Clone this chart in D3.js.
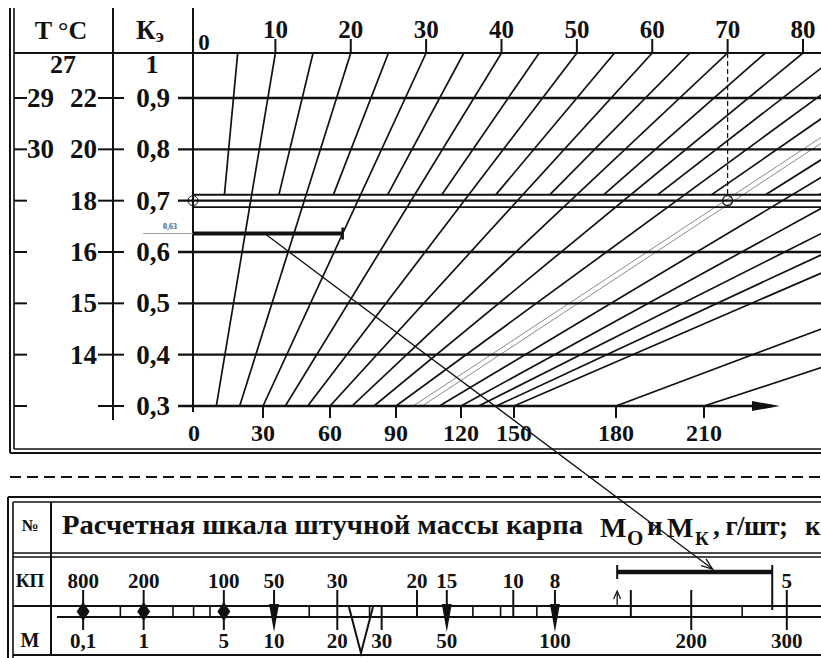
<!DOCTYPE html>
<html><head><meta charset="utf-8">
<script src="https://cdn.jsdelivr.net/npm/d3@7"></script>
<style>
body{margin:0;background:#fff}
svg{display:block}
text{font-family:"Liberation Serif","Times New Roman",serif;font-weight:bold;fill:#111}
</style>
</head><body>
<svg id="c" width="821" height="658"></svg>
<script>
// ---------- DATA ----------
const topTicks = [0,10,20,30,40,50,60,70,80];
const bottomTicks = [0,30,60,90,120,150,180,210];
const kValues = [0.9,0.8,0.7,0.6,0.5,0.4,0.3];
const kLabels = ["0,9","0,8","0,7","0,6","0,5","0,4","0,3"];
const tInner = ["22","20","18","16","15","14",""];
const tOuter = ["29","30","","","","",""];
const kTopLabel = "1", tTopLabel = "27";
const fullRays = [10,20,30,40,50,60,70,80,90,110,120,130,140,150,180,210];
const halfRays = [5,15,25,35,45,55,65,75,85,95,105,115];
const highlightRay = 100;
const exampleK = 0.7, exampleTop = 70;
const barK = 0.63, barLabel = "0,63", barRayEnd = 30, arrowRayStart = 14;

const kpLabels = ["800","200","100","50","30","20","15","10","8","5"];
const kpAtM    = [0.1, 1, 5, 10, 20, 40, 50, 78, 100, 300];
const mLabels  = ["0,1","1","5","10","20","30","50","100","200","300"];
const mValues  = [0.1, 1, 5, 10, 20, 30, 50, 100, 200, 300];
const diamondM = [0.1, 1, 5];
const wedgeM   = [10, 50, 100];
const vShapeM  = [25];
const tallTickM = [20, 40, 78, 150, 200, 300];
const shortTickM = [30];
const cellM = [0.5, 2, 3, 4, 15, 27, 60, 72, 90, 250];
const bracketM = [140, 283];
const arrowToM = 220;

// ---------- LAYOUT / SCALES ----------
const svg = d3.select("#c");
const W = 821;
const INK = "#111";
const yK = d3.scaleLinear().domain([0.3, 0.9]).range([406, 98]);
const xTop = d3.scaleLinear().domain([0, 80]).range([200, 803]);
const xBot = d3.scaleLinear().domain(bottomTicks).range([193, 263, 330, 396, 461, 514, 616, 704]);
const xM = d3.scalePow().exponent(1/3).domain([0, 300]).range([30.7, 786.8]);
const Y0 = 53, YB = yK(0.3), XA = 193;
const yUpper = yK(0.7) - 6;
function rayX(v, y){ const a = xTop(v), b = xBot(v); return a + (b - a) * (y - Y0) / (YB - Y0); }

function line(g, x1, y1, x2, y2, w, col, dash){
  const l = g.append("line").attr("x1",x1).attr("y1",y1).attr("x2",x2).attr("y2",y2)
    .attr("stroke", col || INK).attr("stroke-width", w || 1.5);
  if (dash) l.attr("stroke-dasharray", dash);
  return l;
}

// ---------- TOP PANEL ----------
const tp = svg.append("g");
line(tp, 10, 8, 10, 453, 2);
line(tp, 14, 8, 14, 449, 1.6);
line(tp, 10, 453, W, 453, 2);
line(tp, 14, 449, W, 449, 1.6);
line(tp, 113, 8, 113, 420, 2);
line(tp, XA, 8, XA, 412, 2);
line(tp, 14, Y0, W, Y0, 2.2);

tp.append("text").attr("x", 61).attr("y", 39).attr("text-anchor","middle").attr("font-size",26).text("T °C");
const kh = tp.append("text").attr("x", 150).attr("y", 39).attr("text-anchor","middle").attr("font-size",27);
kh.append("tspan").text("К");
kh.append("tspan").attr("font-size",19).attr("dy",3).text("э");
tp.append("text").attr("x", 152).attr("y", 73).attr("text-anchor","middle").attr("font-size",26).text(kTopLabel);
tp.append("text").attr("x", 63).attr("y", 73).attr("text-anchor","middle").attr("font-size",26).text(tTopLabel);

svg.append("defs").append("clipPath").attr("id","plot")
  .append("rect").attr("x", XA).attr("y", Y0).attr("width", W - XA).attr("height", YB - Y0);
const rays = tp.append("g").attr("clip-path","url(#plot)");

rays.selectAll("line.full").data(fullRays).join("line").attr("class","full")
  .attr("x1", d => xTop(d)).attr("y1", Y0).attr("x2", d => xBot(d)).attr("y2", YB)
  .attr("stroke", INK).attr("stroke-width", 1.7);
rays.selectAll("line.half").data(halfRays).join("line").attr("class","half")
  .attr("x1", d => xTop(d)).attr("y1", Y0).attr("x2", d => rayX(d, yUpper)).attr("y2", yUpper)
  .attr("stroke", INK).attr("stroke-width", 1.7);
rays.selectAll("line.hl").data([-4.5, 4.5]).join("line").attr("class","hl")
  .attr("x1", d => xTop(highlightRay) + d).attr("y1", Y0)
  .attr("x2", d => xBot(highlightRay) + d).attr("y2", YB)
  .attr("stroke", "#8a8a8a").attr("stroke-width", 1);

kValues.forEach((k, i) => {
  const y = yK(k);
  if (k !== 0.3) line(tp, 178, y, W, y, 2.3);
  else {
    line(tp, 178, y, 772, y, 2.3);
    tp.append("path").attr("d", `M752,${y-5}L780,${y}L752,${y+5}Z`).attr("fill", INK);
  }
  tp.append("text").attr("x", 153).attr("y", y + 9).attr("text-anchor","middle").attr("font-size",27).text(kLabels[i]);
  line(tp, 98, y, 124, y, 2);
  line(tp, 14, y, 27, y, 2);
  if (tInner[i]) tp.append("text").attr("x", 97).attr("y", y + 9).attr("text-anchor","end").attr("font-size",27).text(tInner[i]);
  if (tOuter[i]) tp.append("text").attr("x", 27).attr("y", y + 9).attr("font-size",27).text(tOuter[i]);
});
line(tp, XA, yUpper, W, yUpper, 2);
line(tp, XA, yK(0.7) + 6.5, W, yK(0.7) + 6.5, 1.6);

topTicks.forEach(v => {
  if (v === 0) {
    tp.append("text").attr("x", xTop(0) + 4).attr("y", 50).attr("text-anchor","middle").attr("font-size",23).text("0");
  } else {
    line(tp, xTop(v), 39, xTop(v), Y0, 2);
    tp.append("text").attr("x", xTop(v)).attr("y", 38).attr("text-anchor","middle").attr("font-size",25).text(v);
  }
});
bottomTicks.forEach(v => {
  if (v !== 0) line(tp, xBot(v), YB, xBot(v), YB + 12, 2);
  tp.append("text").attr("x", xBot(v) + (v === 0 ? 1 : 0)).attr("y", 441).attr("text-anchor","middle").attr("font-size",24).text(v);
});

const yEx = yK(exampleK);
line(tp, xTop(exampleTop), Y0, xTop(exampleTop), yEx - 5, 1.2, INK, "5,3");
tp.append("circle").attr("cx", XA).attr("cy", yEx).attr("r", 5).attr("fill","none").attr("stroke",INK).attr("stroke-width",1);
tp.append("circle").attr("cx", xTop(exampleTop)).attr("cy", yEx).attr("r", 5).attr("fill","none").attr("stroke",INK).attr("stroke-width",1.2);

const yBar = yK(barK) - 3;
line(tp, 143, yBar, XA, yBar, 1, "#999");
tp.append("text").attr("x", 170).attr("y", yBar - 5).attr("text-anchor","middle").attr("font-size",8).style("fill","#555").text(barLabel);
line(tp, XA, yBar, rayX(barRayEnd, yBar), yBar, 4);
line(tp, rayX(barRayEnd, yBar), yBar - 6, rayX(barRayEnd, yBar), yBar + 6, 2.5);

line(svg, 10, 477, W, 477, 2, INK, "11,6");

// ---------- BOTTOM PANEL ----------
const bp = svg.append("g");
line(bp, 8, 497, W, 497, 2);
line(bp, 13, 502, W, 502, 1.6);
line(bp, 8, 497, 8, 658, 2);
line(bp, 13, 502, 13, 658, 1.6);
line(bp, 51, 502, 51, 656, 2);
line(bp, 13, 553, W, 553, 1.6);
line(bp, 13, 557, W, 557, 1.6);
line(bp, 13, 606, W, 606, 2);
line(bp, 57, 617, W, 617, 2);
line(bp, 13, 655, W, 655, 2);

bp.append("text").attr("x", 30).attr("y", 531).attr("text-anchor","middle").attr("font-size",17).text("№");
bp.append("text").attr("x", 30).attr("y", 587).attr("text-anchor","middle").attr("font-size",19).text("КП");
bp.append("text").attr("x", 30).attr("y", 647).attr("text-anchor","middle").attr("font-size",20).text("М");

bp.append("text").attr("x", 62).attr("y", 534).attr("font-size",27)
  .attr("textLength", 521).attr("lengthAdjust","spacingAndGlyphs").text("Расчетная шкала штучной массы карпа");
const h2 = bp.append("text").attr("y", 537).attr("font-size",28);
h2.append("tspan").attr("x", 600).text("M");
h2.append("tspan").attr("x", 627).attr("y", 545).attr("font-size",21).text("O");
h2.append("tspan").attr("x", 647).attr("y", 535).attr("font-size",27).text("и");
h2.append("tspan").attr("x", 667).attr("y", 537).text("M");
h2.append("tspan").attr("x", 695).attr("y", 545).attr("font-size",19).text("К");
h2.append("tspan").attr("x", 713).attr("y", 535).attr("font-size",27)
  .attr("textLength", 75).attr("lengthAdjust","spacing").text(", г/шт;");
h2.append("tspan").attr("x", 805).attr("y", 535).attr("font-size",27).text("к");

bp.selectAll("line.cell").data(cellM).join("line").attr("class","cell")
  .attr("x1", d => xM(d)).attr("x2", d => xM(d)).attr("y1", 606).attr("y2", 617)
  .attr("stroke", INK).attr("stroke-width", 1.6);
bp.selectAll("line.tall").data(tallTickM).join("line").attr("class","tall")
  .attr("x1", d => xM(d)).attr("x2", d => xM(d)).attr("y1", 590)
  .attr("y2", d => mValues.includes(d) ? 630 : 617).attr("stroke", INK).attr("stroke-width", 2);
bp.selectAll("line.short").data(shortTickM).join("line").attr("class","short")
  .attr("x1", d => xM(d)).attr("x2", d => xM(d)).attr("y1", 606).attr("y2", 630)
  .attr("stroke", INK).attr("stroke-width", 2);
diamondM.forEach(m => {
  const x = xM(m);
  line(bp, x, 590, x, 630, 2);
  bp.append("path").attr("d", `M${x},${602}L${x+6.5},${611.5}L${x},${621}L${x-6.5},${611.5}Z`).attr("fill", INK);
});
wedgeM.forEach(m => {
  const x = xM(m);
  line(bp, x, 590, x, 606, 2);
  bp.append("path").attr("d", `M${x-5},${604}L${x+5},${604}L${x},${632}Z`).attr("fill", INK);
});
vShapeM.forEach(m => {
  const x = xM(m);
  bp.append("path").attr("d", `M${x-12},607L${x},653L${x+12},607`).attr("fill","none").attr("stroke",INK).attr("stroke-width",2);
});
bp.selectAll("text.kp").data(kpLabels).join("text").attr("class","kp")
  .attr("x", (d,i) => xM(kpAtM[i])).attr("y", 588).attr("text-anchor","middle").attr("font-size",21).text(d => d);
bp.selectAll("text.m").data(mLabels).join("text").attr("class","m")
  .attr("x", (d,i) => xM(mValues[i])).attr("y", 648).attr("text-anchor","middle").attr("font-size",21).text(d => d);

const bx1 = xM(bracketM[0]), bx2 = xM(bracketM[1]);
line(bp, bx1, 572, bx2, 572, 4.5);
line(bp, bx1, 565, bx1, 579, 2);
line(bp, bx2, 565, bx2, 610, 2);
line(bp, bx1, 607, bx1, 592, 1.3);
bp.append("path").attr("d", `M${bx1-3.5},${599}L${bx1},${591}L${bx1+3.5},${599}`).attr("fill","none").attr("stroke",INK).attr("stroke-width",1.2);

const ax1 = rayX(arrowRayStart, yBar), ay1 = yBar;
const ax2 = xM(arrowToM), ay2 = 569;
line(svg, ax1, ay1, ax2, ay2, 1.3);
const ang = Math.atan2(ay2 - ay1, ax2 - ax1);
const hl = 12, ha = 0.35;
svg.append("path").attr("d",
  `M${ax2 - hl*Math.cos(ang - ha)},${ay2 - hl*Math.sin(ang - ha)}L${ax2},${ay2}L${ax2 - hl*Math.cos(ang + ha)},${ay2 - hl*Math.sin(ang + ha)}`)
  .attr("fill","none").attr("stroke",INK).attr("stroke-width",1.3);
</script>
</body></html>
